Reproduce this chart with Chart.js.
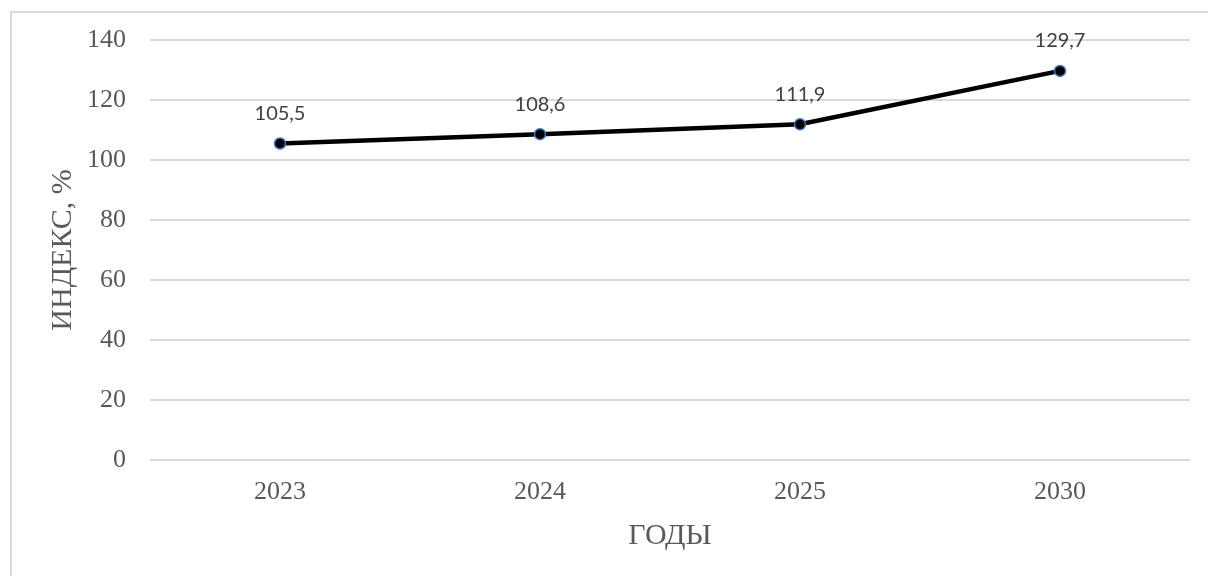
<!DOCTYPE html>
<html>
<head>
<meta charset="utf-8">
<script src="https://cdn.jsdelivr.net/npm/chart.js@4/dist/chart.umd.min.js"></script>
<style>
  html, body { margin: 0; padding: 0; background: #ffffff; }
  #wrap { position: relative; width: 1208px; height: 576px; overflow: hidden; }
  #frame { position: absolute; left: 10px; top: 11px; width: 1220px; height: 600px; border: 2px solid #d9d9d9; box-sizing: border-box; }
  canvas { position: absolute; left: 0; top: 0; }
</style>
</head>
<body>
<div id="wrap">
  <div id="frame"></div>
  <canvas id="c" width="1208" height="576"></canvas>
</div>
<script>
const categories = ['2023', '2024', '2025', '2030'];
const indexValues = [105.5, 108.6, 111.9, 129.7];
const valueLabels = ['105,5', '108,6', '111,9', '129,7'];
const yTicks = [0, 20, 40, 60, 80, 100, 120, 140];
const xTitle = 'ГОДЫ';
const yTitle = 'ИНДЕКС, %';

const labelPlugin = {
  id: 'valueLabels',
  afterDatasetsDraw(chart) {
    const ctx = chart.ctx;
    const meta = chart.getDatasetMeta(0);
    ctx.save();
    ctx.font = '20px Lato';
    ctx.fillStyle = '#404040';
    ctx.textAlign = 'center';
    ctx.textBaseline = 'middle';
    meta.data.forEach((pt, i) => {
      ctx.fillText(valueLabels[i], pt.x, pt.y - 30);
    });
    ctx.restore();
  }
};

new Chart(document.getElementById('c'), {
  type: 'line',
  data: {
    labels: categories,
    datasets: [{
      data: indexValues,
      borderColor: '#000000',
      borderWidth: 4.5,
      backgroundColor: '#000000',
      pointRadius: 5.5,
      pointBorderColor: '#4472c4',
      pointBorderWidth: 1.5,
      pointBackgroundColor: '#000000',
      tension: 0,
      clip: false
    }]
  },
  options: {
    responsive: false,
    animation: false,
    devicePixelRatio: 1,
    layout: { padding: { top: 40, right: 18, left: 0, bottom: 0 } },
    plugins: { legend: { display: false }, tooltip: { enabled: false } },
    scales: {
      x: {
        offset: true,
        grid: { display: false, drawTicks: false },
        border: { display: false },
        ticks: { color: '#595959', font: { family: 'Liberation Serif', size: 26 }, padding: 17, maxRotation: 0 },
        title: { display: true, text: xTitle, color: '#595959', font: { family: 'Liberation Serif', size: 30 }, padding: { top: 0, bottom: 22 } },
        afterFit(scale) { scale.height = 116; }
      },
      y: {
        min: 0, max: 140,
        afterBuildTicks(scale) { scale.ticks = yTicks.map(v => ({ value: v })); },
        grid: { color: '#d9d9d9', lineWidth: 2, drawTicks: false },
        border: { display: false },
        ticks: { color: '#595959', font: { family: 'Liberation Serif', size: 26 }, padding: 24 },
        title: { display: true, text: yTitle, color: '#595959', font: { family: 'Liberation Serif', size: 30 }, padding: { top: 45, bottom: 0 } },
        afterFit(scale) { scale.width = 150; }
      }
    }
  },
  plugins: [labelPlugin]
});
</script>
</body>
</html>
